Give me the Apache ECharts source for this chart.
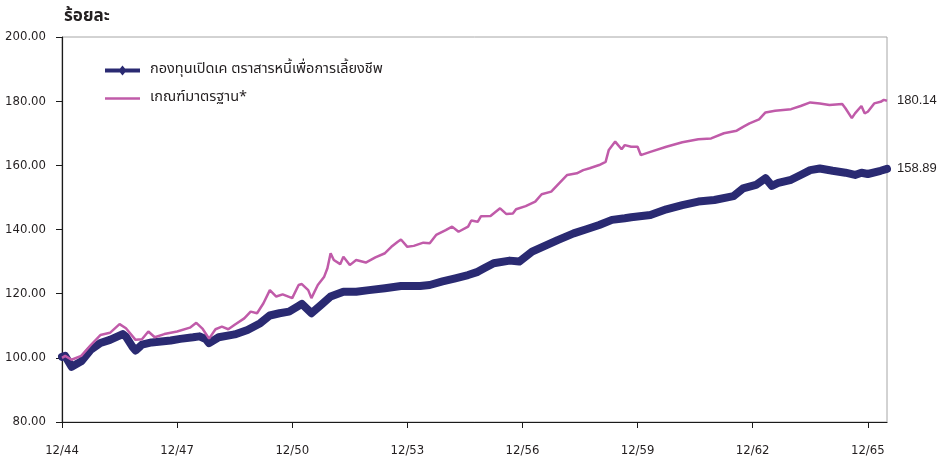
<!DOCTYPE html>
<html>
<head>
<meta charset="utf-8">
<script src="https://cdn.jsdelivr.net/npm/echarts@6/dist/echarts.min.js"></script>
<style>
  html, body { margin: 0; padding: 0; background: #fff; }
  #chart { width: 947px; height: 458px; }
</style>
</head>
<body>
<div id="chart"></div>
<script>
// Months counted from 12/44 (Thai Buddhist year, short form)
const xTickMonths = [0, 36, 72, 108, 144, 180, 216, 252];
const xTickLabels = ['12/44', '12/47', '12/50', '12/53', '12/56', '12/59', '12/62', '12/65'];
const yTicks = [80, 100, 120, 140, 160, 180, 200];

const seriesNames = ['กองทุนเปิดเค ตราสารหนี้เพื่อการเลี้ยงชีพ', 'เกณฑ์มาตรฐาน*'];

const fundMonths = [0,1,3,6,9,12,15,19,20,22,23,25,28,31,34,37,41,43,45,46,49,54,58,62,65,68,71,74,75,78,81,84,88,92,96,101,106,112,115,119,123,127,130,132,135,140,143,147,151,155,160,164,168,172,176,178,184,189,194,199,204,210,213,217,220,222,224,228,231,234,237,241,245,248,250,252,256,258];
const fundValues = [100.3,100.6,97.2,98.9,102.5,104.6,105.6,107.4,106.6,103.5,102.3,104.1,104.8,105.1,105.4,105.9,106.4,106.7,105.8,104.6,106.4,107.3,108.7,110.8,113.2,113.9,114.4,116.2,116.8,113.9,116.5,119.1,120.6,120.6,121.1,121.7,122.4,122.4,122.7,123.8,124.8,125.8,126.8,127.9,129.5,130.3,130,133.1,134.9,136.7,138.8,140.1,141.4,143,143.5,143.8,144.5,146.3,147.6,148.7,149.2,150.4,152.8,153.9,156,153.6,154.5,155.5,157,158.5,159,158.3,157.7,157,157.7,157.3,158.3,158.89];

const benchMonths = [0,1,3,6,9,12,15,18,20,23,25,27,29,32,36,40,42,44,46,48,50,52,54,57,59,61,63,65,67,69,72,74,75,77,78,80,82,83,84,85,87,88,90,92,95,98,101,103,105,106,108,110,113,115,117,120,122,124,127,128,130,131,134,137,139,141,142,145,148,150,153,155,158,161,163,165,168,170,171,173,175,176,178,180,181,184,189,194,199,203,207,211,213,215,218,220,223,228,231,234,237,240,244,245,247,248,250,251,252,254,256,257,258];
const benchValues = [100,100.6,99.4,100.6,104,107.1,107.8,110.5,109.2,105.6,105.8,108.2,106.4,107.4,108.2,109.4,110.9,109.0,106,108.9,109.7,108.9,110.3,112.3,114.4,113.9,117,121.1,119.1,119.8,118.6,122.7,123,121.1,118.6,122.7,125.3,127.9,132.6,130.5,129.2,131.5,128.9,130.5,129.7,131.3,132.6,134.6,136.2,136.9,134.6,134.9,135.9,135.7,138.3,139.8,140.9,139.3,140.9,142.8,142.4,144.1,144.2,146.6,144.8,145,146.3,147.3,148.7,151,151.8,153.9,157,157.5,158.5,159.1,160.1,161.1,164.8,167.4,165,166.3,165.8,165.8,163.2,164.2,165.8,167.2,168.1,168.4,170,170.8,172,173.1,174.3,176.5,177,177.5,178.5,179.6,179.3,178.8,179.1,177.8,174.7,176.2,178.5,176.2,176.7,179.3,179.8,180.4,180.14];

const fundColor = '#2a2a72';
const benchColor = '#c05ba9';
const textColor = '#231f20';
const axisFont = "'Liberation Sans Narrow','DejaVu Sans Condensed','Liberation Sans',sans-serif";
const thaiFont = "'Noto Sans Thai','Noto Sans','Liberation Sans',sans-serif";

const pair = (xs, ys) => xs.map((x, i) => [x, ys[i]]);

const chart = echarts.init(document.getElementById('chart'), null, { renderer: 'canvas' });
chart.setOption({
  animation: false,
  backgroundColor: '#fff',
  title: {
    text: 'ร้อยละ',
    left: 59,
    top: 4,
    textStyle: { fontFamily: thaiFont, fontSize: 17, fontWeight: 'bold', color: textColor }
  },
  legend: {
    orient: 'vertical',
    left: 100,
    top: 58,
    itemWidth: 35,
    itemHeight: 10,
    itemGap: 13,
    data: [
      { name: seriesNames[0], icon: 'path://M0,3 L15,3 L17.5,0 L20,3 L35,3 L35,7 L20,7 L17.5,10 L15,7 L0,7 Z' },
      { name: seriesNames[1], icon: 'path://M0,0 L35,0 L35,2.5 L0,2.5 Z' }
    ],
    textStyle: { fontFamily: thaiFont, fontSize: 14.5, color: textColor, padding: [0, 0, 0, 5] }
  },
  grid: {
    left: 62, right: 60, top: 37, bottom: 36,
    show: true, borderColor: '#a6a6a6', borderWidth: 1, backgroundColor: 'transparent'
  },
  xAxis: {
    type: 'value',
    min: 0,
    max: 258,
    splitLine: { show: false },
    axisLine: { show: true, onZero: false, lineStyle: { color: '#1a1a1a', width: 1.2 } },
    axisTick: { show: true, length: 6, customValues: xTickMonths, lineStyle: { color: '#1a1a1a' } },
    axisLabel: {
      customValues: xTickMonths,
      formatter: v => xTickLabels[xTickMonths.indexOf(v)] || '',
      margin: 22,
      fontFamily: axisFont, fontSize: 13, color: textColor
    }
  },
  yAxis: {
    type: 'value',
    min: 80,
    max: 200,
    interval: 20,
    splitLine: { show: false },
    axisLine: { show: true, lineStyle: { color: '#1a1a1a', width: 1.2 } },
    axisTick: { show: true, length: 6, lineStyle: { color: '#1a1a1a' } },
    axisLabel: {
      formatter: v => yTicks.includes(v) ? v.toFixed(2) : '',
      margin: 16,
      fontFamily: axisFont, fontSize: 13, color: textColor
    }
  },
  series: [
    {
      name: seriesNames[1],
      type: 'line',
      data: pair(benchMonths, benchValues),
      symbol: 'none',
      lineStyle: { color: benchColor, width: 2.5 },
      itemStyle: { color: benchColor },
      endLabel: {
        show: true,
        distance: 10,
        formatter: p => p.value[1].toFixed(2),
        fontFamily: "'Liberation Sans',sans-serif", fontSize: 13, color: textColor
      },
      z: 3
    },
    {
      name: seriesNames[0],
      type: 'line',
      data: pair(fundMonths, fundValues),
      symbol: 'diamond',
      symbolSize: 10,
      showSymbol: false,
      lineStyle: { color: fundColor, width: 8, join: 'round', cap: 'round' },
      itemStyle: { color: fundColor },
      endLabel: {
        show: true,
        distance: 10,
        formatter: p => p.value[1].toFixed(2),
        fontFamily: "'Liberation Sans',sans-serif", fontSize: 13, color: textColor
      },
      z: 2
    }
  ]
});
</script>
</body>
</html>
